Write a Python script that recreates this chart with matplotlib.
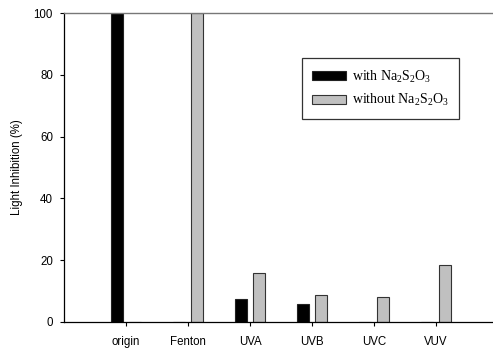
import numpy as np
import matplotlib
matplotlib.use("Agg")
import matplotlib.pyplot as plt

plt.rcParams["mathtext.fontset"] = "custom"
plt.rcParams["mathtext.rm"] = "Liberation Serif"
plt.rcParams["mathtext.it"] = "Liberation Serif:italic"
plt.rcParams["mathtext.bf"] = "Liberation Serif:bold"

categories = ["origin", "Fenton", "UVA", "UVB", "UVC", "VUV"]
with_thio = [100.0, 0.0, 7.4, 5.8, 0.0, 0.0]
without_thio = [0.0, 100.0, 16.0, 8.6, 8.2, 18.4]
y_ticks = [0, 20, 40, 60, 80, 100]

fig = plt.figure(figsize=(4.93, 3.52), dpi=100)
ax = fig.add_axes([64 / 493, 1 - 322 / 352, 1 - 64 / 493, (322 - 13) / 352])

x = np.arange(1, len(categories) + 1)
w = 0.18
off = 0.145
ax.bar(x - off, with_thio, width=w, color="black", edgecolor="#222222",
       linewidth=0.8, label="with Na$_2$S$_2$O$_3$")
ax.bar(x + off, without_thio, width=w, color="#c0c0c0", edgecolor="#333333",
       linewidth=0.8, label="without Na$_2$S$_2$O$_3$")

ax.set_xlim(0, 6.92)
ax.set_ylim(0, 100)
ax.set_xticks(x)
ax.set_xticklabels(categories, family="Liberation Sans", fontsize=8.3)
ax.set_yticks(y_ticks)
ax.set_yticklabels([str(v) for v in y_ticks], family="Liberation Sans", fontsize=8.3)
ax.tick_params(axis="both", direction="out", length=3, width=0.8)
ax.tick_params(axis="x", pad=7)
ax.tick_params(axis="y", pad=5)
ax.set_ylabel("Light Inhibition (%)", family="Liberation Sans", fontsize=8.3)
ax.yaxis.set_label_coords(-(64 - 23) / 429, 0.5)

ax.spines["right"].set_visible(False)
ax.spines["top"].set_color("#777777")
ax.spines["top"].set_linewidth(1.0)
ax.spines["left"].set_linewidth(0.9)
ax.spines["bottom"].set_linewidth(0.9)

leg = ax.legend(loc="upper left", bbox_to_anchor=((302 - 64) / 429, 1 - (58 - 13) / 309),
                prop={"family": "Liberation Serif", "size": 10}, frameon=True,
                fancybox=False, handlelength=2.4, handleheight=0.65, borderpad=0.75,
                labelspacing=0.55, handletextpad=0.45, borderaxespad=0)
leg.get_frame().set_edgecolor("black")
leg.get_frame().set_linewidth(0.9)

fig.savefig("out.png", dpi=100)
